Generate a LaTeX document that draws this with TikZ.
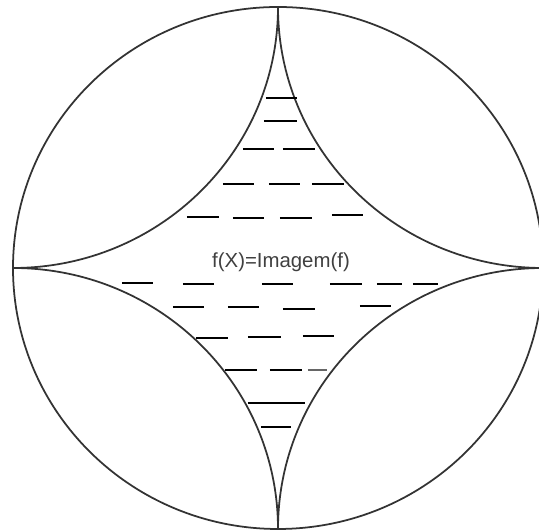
\documentclass[tikz,border=0pt]{standalone}
\usepackage{fontspec}
\setmainfont{Liberation Sans}
\tikzset{
  outline/.style={draw=black!80, line width=1pt},
  hatch/.style={draw=black, line width=1.4pt},
  faint/.style={draw=black!60, line width=0.9pt},
  label/.style={text=black!75, font=\fontsize{11.6}{14}\selectfont, inner sep=0pt}
}
\begin{document}
\begin{tikzpicture}[x=0.02cm, y=0.02cm]
\useasboundingbox (0,0) rectangle (539,530);

% cardinal points of the big circle
\coordinate (c) at (278,262);
\coordinate (top) at (278,523);
\coordinate (bot) at (278,1);
\coordinate (lft) at (13,262);
\coordinate (rgt) at (543,262);

\draw[outline] (c) ellipse [x radius=265, y radius=261];

% four quarter arcs
\draw[outline] (top) arc[start angle=0, end angle=-90, x radius=265, y radius=261];
\draw[outline] (top) arc[start angle=180, end angle=270, x radius=265, y radius=261];
\draw[outline] (bot) arc[start angle=0, end angle=90, x radius=265, y radius=261];
\draw[outline] (bot) arc[start angle=180, end angle=90, x radius=265, y radius=261];

\node[label] (img) at (281,268) {f(X)=Imagem(f)};

% dashes above the label
\foreach \a/\b/\y in {266/297/432, 264/297/409,
    243/274/381, 283/315/381,
    223/254/346, 269/300/346, 312/344/346,
    187/219/313, 233/264/312, 280/312/312, 332/363/315}
  \draw[hatch] (\a,\y) -- (\b,\y);

% dashes below the label
\foreach \a/\b/\y in {122/153/247, 183/214/246, 262/293/246, 330/362/246, 377/402/246, 413/438/246,
    173/204/223, 228/259/223, 283/315/221, 360/391/224,
    196/228/192, 248/281/193, 303/334/194,
    225/257/160, 270/302/160,
    248/305/127,
    261/291/103}
  \draw[hatch] (\a,\y) -- (\b,\y);
\draw[faint] (308,160) -- (327,160);

\end{tikzpicture}
\end{document}
